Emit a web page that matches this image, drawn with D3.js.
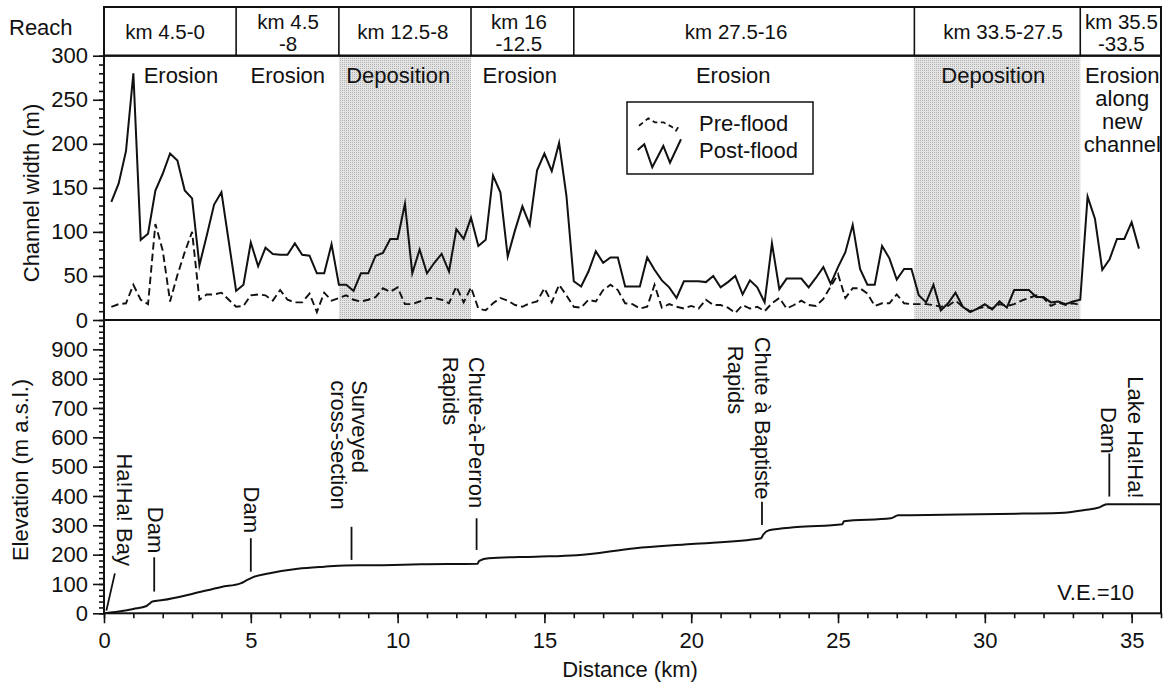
<!DOCTYPE html>
<html><head><meta charset="utf-8">
<script src="https://cdn.jsdelivr.net/npm/d3@7"></script>
<style>
body{margin:0;background:#fff}
text{font-family:"Liberation Sans",Arial,Helvetica,sans-serif;fill:#111}
</style>
</head><body>
<svg id="chart" width="1166" height="684"></svg>
<script>
// ---------- DATA ----------
const stationStartKm = 0.25;   // first surveyed station
const stationStepKm = 0.25;    // spacing between stations

const postFlood = [
 134,155,192,280, 91,98,147,166, 189,181,147,138, 62,96,131,145,
 89,33,40,88, 61,82,75,74, 74,87,74,73, 53,53,86,40,
 40,33,53,53, 73,76,92,92, 132,53,80,53, 65,75,55,103,
 92,116,84,91, 164,145,72,102, 129,108,170,189, 169,201,141,44,
 38,55,78,65, 71,71,38,38, 38,71,57,45, 37,25,44,44,
 44,43,50,37, 43,50,29,45, 37,20,87,35, 47,47,47,37,
 48,60,41,60, 77,108,58,40, 40,84,70,46, 58,58,28,20,
 40,11,19,31, 15,9,13,18, 12,21,14,34, 34,34,26,26,
 20,21,18,21, 23,140,115,57, 69,92,92,111, 81
];

const preFlood = [
 15,18,19,40, 23,18,109,79, 21,51,77,100, 23,29,29,31,
 23,15,16,28, 29,28,22,34, 23,20,20,30, 9,31,22,25,
 28,23,21,23, 26,36,32,37, 18,18,21,25, 25,23,19,38,
 20,37,13,11, 19,25,22,17, 15,19,21,36, 20,40,28,15,
 14,23,21,34, 40,34,19,18, 13,15,40,14, 18,15,13,16,
 13,23,17,17, 14,8,17,13, 15,10,19,25, 13,17,22,17,
 16,24,38,52, 25,36,36,30, 16,19,19,29, 19,18,18,18,
 17,15,16,22, 15,10,13,15, 13,18,16,18, 22,25,28,25,
 16,20,17,19, 17
];

// longitudinal profile: [distance km, elevation m a.s.l.]
const profile = [
 [0,0],[0.5,6],[1.0,15],[1.45,25],[1.55,33],[1.65,40],[2.0,45],[3.0,66],[4.0,90],
 [4.65,102],[4.85,112],[5.1,124],[5.6,136],[6.6,152],[7.5,159],[8.2,163],[9.5,164],
 [10.8,167],[12.72,169],[12.78,179],[13.1,188],[14.7,193],[16.1,198],[18.1,222],
 [20.0,236],[22.38,256],[22.45,268],[22.65,283],[23.6,294],[25.15,304],[25.2,314],
 [26.8,324],[27.05,334],[28.6,336],[31.3,340],[32.7,343],[33.4,352],[33.9,361],
 [34.15,372],[36,372]
];

const reachBounds = [0,4.5,8,12.5,16,27.6,33.25,36];
const reachLabels = [["km 4.5-0"],["km 4.5","-8"],["km 12.5-8"],["km 16","-12.5"],["km 27.5-16"],["km 33.5-27.5"],["km 35.5","-33.5"]];
const reachLabelKm = [2.08,6.27,10.18,14.13,21.53,30.62,34.65];
const reachProcess = [["Erosion"],["Erosion"],["Deposition"],["Erosion"],["Erosion"],["Deposition"],["Erosion","along","new","channel"]];
const reachProcessKm = [2.62,6.26,10.02,14.16,21.43,30.29,34.68];
const depositionZones = [[8,12.5],[27.6,33.25]];

const widthTicks = [0,50,100,150,200,250,300];
const widthMinorTicks = d3.range(0,301,10);
const elevTicks = [0,100,200,300,400,500,600,700,800,900];
const elevMinorTicks = d3.range(0,1000,20);
const distTicks = [0,5,10,15,20,25,30,35];
const distMinorTicks = d3.range(0,37,1);

// landmark labels (rotated), anchored at [km, elevation of text start]
const landmarkText = [
 {t:"Ha!Ha! Bay", km:0.44, el:545},
 {t:"Dam", km:1.50, el:363},
 {t:"Dam", km:4.77, el:432},
 {t:"Surveyed", km:8.45, el:795},
 {t:"cross-section", km:7.73, el:795},
 {t:"Chute-à-Perron", km:12.44, el:875},
 {t:"Rapids", km:11.55, el:875},
 {t:"Chute à Baptiste", km:22.18, el:943},
 {t:"Rapids", km:21.26, el:912},
 {t:"Lake Ha!Ha!", km:34.89, el:808},
 {t:"Dam", km:33.97, el:703}
];
const landmarkLeaders = [
 [[0.08,9],[0.37,136]],
 [[1.71,74],[1.71,191]],
 [[5.0,142],[5.0,256]],
 [[8.43,182],[8.43,295]],
 [[12.69,216],[12.69,324]],
 [[22.41,301],[22.41,380]],
 [[34.24,398],[34.24,545]]
];

// ---------- DRAW ----------
const svg = d3.select("#chart");
const L = 104, R = 1161, headTop = 7, upTop = 55.7, mid = 320, bot = 613.3;
const x = d3.scaleLinear().domain([0,36]).range([L,R]);
const yW = d3.scaleLinear().domain([0,300]).range([mid,upTop]);
const yE = d3.scaleLinear().domain([0,1000]).range([bot,mid]);
const ink = "#111";
const FS = 22;

const defs = svg.append("defs");
const pat = defs.append("pattern").attr("id","stip").attr("width",2).attr("height",2)
  .attr("patternUnits","userSpaceOnUse");
pat.append("rect").attr("width",2).attr("height",2).attr("fill","#e4e4e4");
pat.append("rect").attr("width",1).attr("height",1).attr("fill","#b2b2b2");

// deposition shading
svg.selectAll("rect.dep").data(depositionZones).join("rect").attr("class","dep")
  .attr("x",d=>x(d[0])).attr("width",d=>x(d[1])-x(d[0]))
  .attr("y",upTop).attr("height",mid-upTop).attr("fill","url(#stip)");

// header separators
svg.selectAll("line.sep").data(reachBounds.slice(1,-1)).join("line").attr("class","sep")
  .attr("x1",d=>x(d)).attr("x2",d=>x(d)).attr("y1",headTop).attr("y2",upTop)
  .attr("stroke",ink).attr("stroke-width",1.6);

// header labels
reachLabels.forEach((lines,i)=>{
  const t = svg.append("text").attr("text-anchor","middle").attr("font-size",20.5);
  if(lines.length===1){
    t.append("tspan").attr("x",x(reachLabelKm[i])).attr("y",38.5).text(lines[0]);
  } else {
    t.append("tspan").attr("x",x(reachLabelKm[i])).attr("y",28.5).text(lines[0]);
    t.append("tspan").attr("x",x(reachLabelKm[i])).attr("y",50.5).text(lines[1]);
  }
});
svg.append("text").attr("x",9).attr("y",34.5).attr("font-size",FS).text("Reach");

// process labels
reachProcess.forEach((lines,i)=>{
  const t = svg.append("text").attr("text-anchor","middle").attr("font-size",FS);
  lines.forEach((s,j)=>{
    t.append("tspan").attr("x",x(reachProcessKm[i])).attr("y",83+j*23).text(s);
  });
});

// width lines
const stationKm = i => stationStartKm + i*stationStepKm;
const wLine = d3.line().x((d,i)=>x(stationKm(i))).y(d=>yW(d));
svg.append("path").datum(preFlood).attr("d",wLine).attr("fill","none")
  .attr("stroke",ink).attr("stroke-width",1.9).attr("stroke-dasharray","7.5,4");
svg.append("path").datum(postFlood).attr("d",wLine).attr("fill","none")
  .attr("stroke",ink).attr("stroke-width",2).attr("stroke-linejoin","miter").attr("stroke-miterlimit",12);

// legend
const lg = svg.append("g").attr("transform","translate(627,102)");
lg.append("rect").attr("width",186).attr("height",72).attr("fill","#fff")
  .attr("stroke",ink).attr("stroke-width",1.5);
lg.append("polyline").attr("points","12,23.7 21.3,16.3 28,20.3 36.3,20.3 44.7,24.7 49,28.7 53,22.3")
  .attr("fill","none").attr("stroke",ink).attr("stroke-width",1.8).attr("stroke-dasharray","5,3.5");
lg.append("polyline").attr("points","10.7,48 17.3,42.3 25.3,65.3 36.3,44 43,60.7 54,37.3")
  .attr("fill","none").attr("stroke",ink).attr("stroke-width",2);
lg.append("text").attr("x",72).attr("y",28.5).attr("font-size",FS).text("Pre-flood");
lg.append("text").attr("x",72).attr("y",55.5).attr("font-size",FS).text("Post-flood");

// elevation profile
const pLine = d3.line().x(d=>x(d[0])).y(d=>yE(d[1])).curve(d3.curveMonotoneX);
svg.append("path").datum(profile).attr("d",pLine).attr("fill","none")
  .attr("stroke",ink).attr("stroke-width",2);

// landmarks
svg.selectAll("line.lead").data(landmarkLeaders).join("line").attr("class","lead")
  .attr("x1",d=>x(d[0][0])).attr("y1",d=>yE(d[0][1]))
  .attr("x2",d=>x(d[1][0])).attr("y2",d=>yE(d[1][1]))
  .attr("stroke",ink).attr("stroke-width",1.8);
svg.selectAll("text.lm").data(landmarkText).join("text").attr("class","lm")
  .attr("font-size",FS)
  .attr("transform",d=>`translate(${x(d.km)},${yE(d.el)}) rotate(90)`)
  .text(d=>d.t);

svg.append("text").attr("x",1134).attr("y",600).attr("text-anchor","end")
  .attr("font-size",FS).text("V.E.=10");

// axes
function styleAxis(g){
  g.select(".domain").remove();
  g.selectAll(".tick line").attr("stroke",ink).attr("stroke-width",1.6);
  g.selectAll("text").attr("font-size",FS).attr("fill",ink)
    .attr("font-family",'"Liberation Sans",Arial,Helvetica,sans-serif');
}
svg.append("g").attr("transform",`translate(${L},0)`)
  .call(d3.axisLeft(yW).tickValues(widthMinorTicks).tickSize(5).tickFormat(""))
  .call(styleAxis);
svg.append("g").attr("transform",`translate(${L},0)`)
  .call(d3.axisLeft(yW).tickValues(widthTicks).tickSize(11).tickPadding(5))
  .call(styleAxis);
svg.append("g").attr("transform",`translate(${L},0)`)
  .call(d3.axisLeft(yE).tickValues(elevMinorTicks).tickSize(5).tickFormat(""))
  .call(styleAxis);
svg.append("g").attr("transform",`translate(${L},0)`)
  .call(d3.axisLeft(yE).tickValues(elevTicks).tickSize(11).tickPadding(5))
  .call(styleAxis);
svg.append("g").attr("transform",`translate(0,${bot})`)
  .call(d3.axisBottom(x).tickValues(distMinorTicks).tickSize(5).tickFormat(""))
  .call(styleAxis);
const xa = svg.append("g").attr("transform",`translate(0,${bot})`)
  .call(d3.axisBottom(x).tickValues(distTicks).tickSize(10))
  .call(styleAxis);
xa.selectAll("text").attr("y",35).attr("dy",0);

// frames
[[headTop,upTop],[upTop,mid],[mid,bot]].forEach(([a,b])=>{
  svg.append("rect").attr("x",L).attr("y",a).attr("width",R-L).attr("height",b-a)
    .attr("fill","none").attr("stroke",ink).attr("stroke-width",2);
});

// axis titles
svg.append("text").attr("transform","translate(39,193) rotate(-90)")
  .attr("text-anchor","middle").attr("font-size",FS).text("Channel width (m)");
svg.append("text").attr("transform","translate(28,470) rotate(-90)")
  .attr("text-anchor","middle").attr("font-size",FS).text("Elevation (m a.s.l.)");
svg.append("text").attr("x",630).attr("y",677).attr("text-anchor","middle")
  .attr("font-size",FS).text("Distance (km)");
</script>
</body></html>
